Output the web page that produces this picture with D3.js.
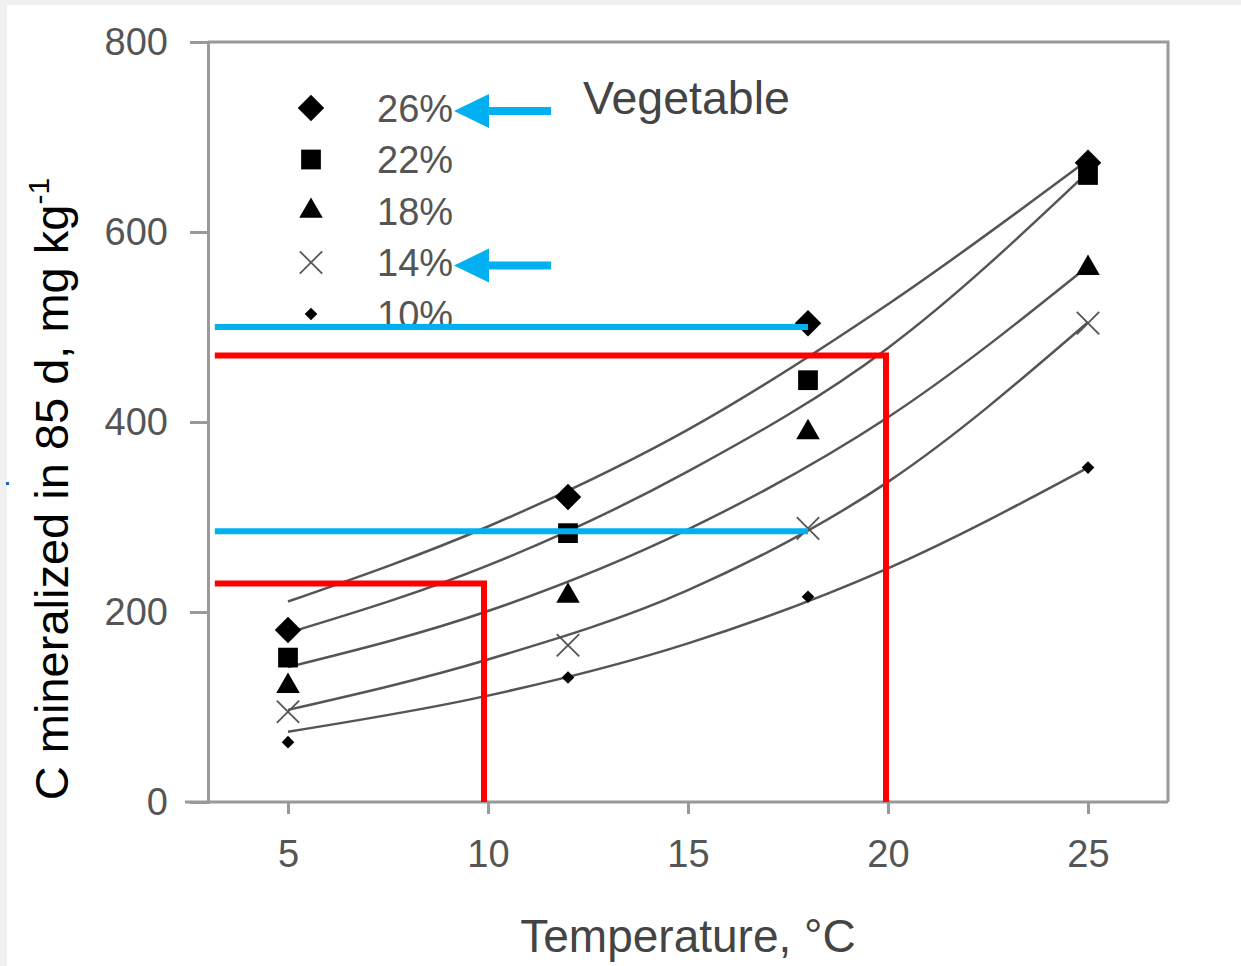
<!DOCTYPE html>
<html>
<head>
<meta charset="utf-8">
<script src="https://cdn.jsdelivr.net/npm/d3@7"></script>
<style>
  body { margin: 0; background: #fff; }
  text { font-family: "Liberation Sans", Arial, sans-serif; }
</style>
</head>
<body>
<svg id="chart" width="1241" height="966"></svg>
<script>
// observed points (temperature, C mineralized)
var temps = [5, 12, 18, 25];
var seriesNames = ["26%", "22%", "18%", "14%", "10%"];
var obs26 = [181, 321, 504, 673];
var obs22 = [152, 283, 444, 660];
var obs18 = [122, 217, 389, 562];
var obs14 = [95, 165, 288, 504];
var obs10 = [63, 131, 216, 352];

// fitted curves
var fitTemps = [5, 10, 15, 20, 25];
var fit26 = [211, 290, 392, 524, 676];
var fit22 = [178, 249, 348, 478, 663];
var fit18 = [142, 201, 287, 405, 564];
var fit14 = [97, 150, 223, 337, 505];
var fit10 = [74, 112, 167, 246, 352];

var xTicks = [5, 10, 15, 20, 25];
var yTicks = [0, 200, 400, 600, 800];

// reference lines drawn on top (blue: read-offs at 18 C, red: at 10 and 20 C)
var blueRefs = [{t: 18, v: 500}, {t: 18, v: 285}];
var redRefs = [{t: 19.95, v: 470}, {t: 9.9, v: 230}];

var dimensions = {
    width: 1241,
    height: 966,
    plot: {left: 208, right: 1168, top: 42, bottom: 802}
}

var svg = d3.select("#chart")

// screenshot border
svg.append("rect").attr("width", dimensions.width).attr("height", dimensions.height).attr("fill", "#f0f0f0")
svg.append("rect").attr("x", 7).attr("y", 5).attr("width", dimensions.width - 7).attr("height", dimensions.height - 5).attr("fill", "#fff")
svg.append("rect").attr("x", 6).attr("y", 482).attr("width", 3).attr("height", 3).attr("fill", "#1f5fbf")

var xScale = d3.scaleLinear()
    .domain([3, 27])
    .range([dimensions.plot.left, dimensions.plot.right])

var yScale = d3.scaleLinear()
    .domain([0, 800])
    .range([dimensions.plot.bottom, dimensions.plot.top])

var axisColor = "#999"

// frame (top + right)
svg.append("path")
    .attr("d", "M" + dimensions.plot.left + "," + dimensions.plot.top + "H" + dimensions.plot.right + "V" + dimensions.plot.bottom)
    .attr("fill", "none")
    .attr("stroke", axisColor)
    .attr("stroke-width", 3)

// Y axis
var yAxis = svg.append("g")
    .attr("transform", "translate(" + dimensions.plot.left + ",0)")
    .call(d3.axisLeft(yScale).tickValues(yTicks).tickSize(18).tickSizeOuter(18).tickPadding(22))
yAxis.selectAll("path, line").attr("stroke", axisColor).attr("stroke-width", 3)
yAxis.selectAll("text")
    .attr("font-size", 38)
    .attr("fill", "#555")
    .style("font-family", "'Liberation Sans', Arial, sans-serif")

// X axis
var xAxis = svg.append("g")
    .attr("transform", "translate(0," + dimensions.plot.bottom + ")")
    .call(d3.axisBottom(xScale).tickValues(xTicks).tickSize(12).tickSizeOuter(0).tickPadding(26))
xAxis.select(".domain").remove()
xAxis.append("line")
    .attr("x1", dimensions.plot.left - 23).attr("x2", dimensions.plot.right)
    .attr("stroke", axisColor).attr("stroke-width", 3)
xAxis.selectAll("line").attr("stroke", axisColor).attr("stroke-width", 3)
xAxis.selectAll("text")
    .attr("font-size", 38)
    .attr("fill", "#555")
    .style("font-family", "'Liberation Sans', Arial, sans-serif")

// axis titles
svg.append("text")
    .attr("x", xScale(15))
    .attr("y", 952)
    .attr("text-anchor", "middle")
    .attr("font-size", 46)
    .attr("fill", "#444")
    .text("Temperature, °C")

var yTitle = svg.append("text")
    .attr("transform", "translate(68,489) rotate(-90)")
    .attr("text-anchor", "middle")
    .attr("font-size", 47)
    .attr("fill", "#000")
yTitle.append("tspan").text("C mineralized in 85 d, mg kg")
yTitle.append("tspan").attr("font-size", 30).attr("dy", -19).text("-1")

svg.append("text")
    .attr("x", 583)
    .attr("y", 114)
    .attr("font-size", 46.5)
    .attr("fill", "#444")
    .text("Vegetable")

// fitted curves
var fits = [fit26, fit22, fit18, fit14, fit10]
var line = d3.line()
    .x(function(d, i) { return xScale(fitTemps[i]) })
    .y(function(d) { return yScale(d) })
    .curve(d3.curveMonotoneX)

svg.append("g")
    .selectAll("path")
    .data(fits)
    .enter()
    .append("path")
    .attr("d", line)
    .attr("fill", "none")
    .attr("stroke", "#555")
    .attr("stroke-width", 2.5)

// marker shapes per series
var markers = [
    {type: d3.symbolSquare, size: 350, rotate: 45, fill: "#000", stroke: "none"},
    {type: d3.symbolSquare, size: 390, rotate: 0, fill: "#000", stroke: "none"},
    {type: d3.symbolTriangle, size: 240, rotate: 0, fill: "#000", stroke: "none"},
    {type: d3.symbolTimes, size: 330, rotate: 0, fill: "none", stroke: "#555"},
    {type: d3.symbolSquare, size: 80, rotate: 45, fill: "#000", stroke: "none"}
]

function drawMarker(sel, m) {
    sel.append("path")
        .attr("d", d3.symbol().type(m.type).size(m.size)())
        .attr("fill", m.fill)
        .attr("stroke", m.stroke)
        .attr("stroke-width", 1.8)
        .attr("transform", function(d) { return "translate(" + d[0] + "," + d[1] + ") rotate(" + m.rotate + ")" })
}

var observed = [obs26, obs22, obs18, obs14, obs10]
observed.forEach(function(vals, s) {
    var pts = vals.map(function(v, i) { return [xScale(temps[i]), yScale(v)] })
    var g = svg.append("g").selectAll("g").data(pts).enter().append("g")
    g.each(function(d) { drawMarker(d3.select(this).datum(d), markers[s]) })
})

// legend
var legendX = 311, legendY = 108, legendStep = 51.5
seriesNames.forEach(function(name, i) {
    var y = legendY + i * legendStep
    var g = svg.append("g").datum([legendX, y])
    drawMarker(g, markers[i])
    svg.append("text")
        .attr("x", 377)
        .attr("y", y)
        .attr("dy", "0.36em")
        .attr("font-size", 38)
        .attr("fill", "#555")
        .text(name)
})

// blue arrows pointing at 26% and 14%
var blue = "#00b0f0", red = "#ff0000"
;[0, 3].forEach(function(i) {
    var y = legendY + i * legendStep + 3
    svg.append("rect").attr("x", 485).attr("y", y - 4).attr("width", 66).attr("height", 8).attr("fill", blue)
    svg.append("path")
        .attr("d", "M454," + y + "L489," + (y - 17) + "L489," + (y + 17) + "Z")
        .attr("fill", blue)
})

// reference lines
var refLeft = xScale(3.17)
blueRefs.forEach(function(d) {
    svg.append("line")
        .attr("x1", refLeft).attr("x2", xScale(d.t))
        .attr("y1", yScale(d.v)).attr("y2", yScale(d.v))
        .attr("stroke", blue).attr("stroke-width", 6)
})
redRefs.forEach(function(d) {
    svg.append("path")
        .attr("d", "M" + refLeft + "," + yScale(d.v) + "H" + xScale(d.t) + "V" + yScale(0))
        .attr("fill", "none")
        .attr("stroke", red).attr("stroke-width", 6)
})
</script>
</body>
</html>
